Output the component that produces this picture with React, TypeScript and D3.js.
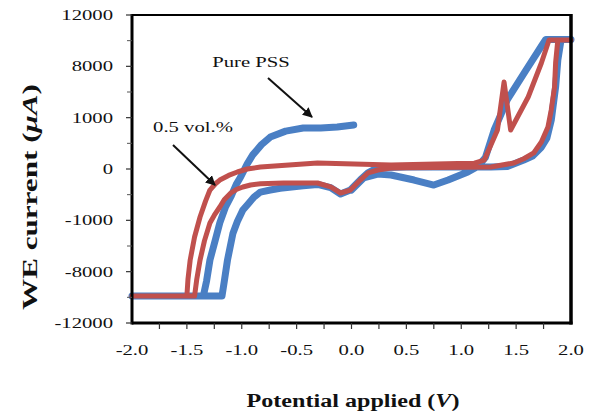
import React from "react";
import * as d3 from "d3";

// Pure PSS (blue) — scan order
const bluePotential = [
  0.0, 0.11, 0.24, 0.36, 0.57, 0.75, 0.88, 1.06, 1.15, 1.22, 1.30, 1.42, 1.59, 1.74, 1.77, 2.0,
  1.91, 1.88, 1.86, 1.82, 1.78, 1.73, 1.65, 1.57, 1.42, 1.27, 1.0, 0.5, 0.24, 0.15, 0.08, -0.01, -0.1, -0.19, -0.31, -0.44, -0.65, -0.74, -0.83, -0.89, -0.94, -0.99, -1.04, -1.08, -1.13, -1.16, -1.18, -2.0,
  -1.35, -1.32, -1.29, -1.24, -1.2, -1.15, -1.1, -1.05, -1.01, -0.95, -0.9, -0.82, -0.74, -0.6, -0.44, -0.28, -0.13, 0.02,
];
const blueCurrent = [
  -1640, -700, -400, -470, -860, -1250, -860, -234, 200, 900, 3040, 5400, 7710, 9700, 10100, 10100,
  10100, 8500, 6400, 3800, 2400, 1700, 1000, 700, 200, 150, 160, 160, 100, -300, -850, -1640, -1950, -1450, -1200, -1300, -1500, -1640, -1800, -2200, -2700, -3200, -4100, -5000, -7100, -8800, -9900, -9900,
  -9900, -8700, -7100, -5500, -4200, -3000, -2180, -1200, -620, 400, 1100, 1900, 2490, 2950, 3200, 3200, 3270, 3430,
];

// 0.5 vol.% (red) — scan order
const redPotential = [
  -2.0, -1.5, -1.49, -1.47, -1.43, -1.38, -1.33, -1.29, -1.24, -1.2, -1.12, -1.04, -0.95, -0.83, -0.31, 0.36, 0.97, 1.12, 1.21, 1.33, 1.39, 1.45, 1.61, 1.73, 1.8, 2.0,
  1.88, 1.86, 1.85, 1.82, 1.79, 1.73, 1.66, 1.57, 1.48, 1.27, 0.5, 0.36, 0.24, 0.15, 0.08, -0.01, -0.1, -0.19, -0.31, -0.62, -0.83, -0.92, -0.99, -1.05, -1.1, -1.16, -1.2, -1.25, -1.29, -1.34, -1.38, -1.41, -1.43, -2.0,
];
const redCurrent = [
  -9900, -9900, -8600, -7100, -5300, -3740, -2500, -1640, -1150, -860, -500, -234, 0, 156, 470, 310, 420, 450, 700, 3040, 6780, 3040, 5610, 8260, 10050, 10050,
  10050, 8300, 6390, 4600, 3270, 2100, 1250, 800, 470, 156, 100, 78, -78, -310, -860, -1640, -1870, -1400, -1090, -1090, -1150, -1250, -1400, -1600, -1870, -2400, -2960, -3600, -4200, -5600, -7100, -8600, -9900, -9900,
];

const xTickValues = [-2.0, -1.5, -1.0, -0.5, 0.0, 0.5, 1.0, 1.5, 2.0];
const xTickLabels = ["-2.0", "-1.5", "-1.0", "-0.5", "0.0", "0.5", "1.0", "1.5", "2.0"];
const yTickValues = [12000, 8000, 4000, 0, -4000, -8000, -12000];
const yTickLabels = ["12000", "8000", "1000", "0", "-1000", "-8000", "-12000"];

const FONT = "'Liberation Serif', 'Times New Roman', serif";
const BLUE = "#4a7fc4";
const RED = "#c0504d";
const SX = 1.38;

export default function App() {
  const x = d3.scaleLinear().domain([-2, 2]).range([132, 571]);
  const y = d3.scaleLinear().domain([-12000, 12000]).range([323, 15]);

  const mk = (vs: number[], cs: number[]) => {
    const pts: [number, number][] = vs.map((v, i) => [x(v), y(cs[i])]);
    return d3.line().curve(d3.curveLinear)(pts) || "";
  };

  const minorX = d3.range(-1.75, 2.0, 0.25);
  const minorY = d3.range(-10000, 12000, 2000);

  const stretched = (tx: number, ty: number, anchor: string, txt: string, size = 15, key?: string) => (
    <g key={key} transform={`translate(${tx},${ty}) scale(${SX},1)`}>
      <text x={0} y={0} textAnchor={anchor} fontFamily={FONT} fontSize={size} fill="#111">
        {txt}
      </text>
    </g>
  );

  return (
    <svg
      width={594}
      height={414}
      style={{ position: "absolute", left: 0, top: 0, background: "#fff" }}
    >
      <defs>
        <marker id="ah" viewBox="0 0 10 10" refX="9" refY="5" markerWidth="5" markerHeight="5" orient="auto">
          <path d="M0,0 L10,5 L0,10 z" fill="#111" />
        </marker>
      </defs>

      {/* curves */}
      <path d={mk(bluePotential, blueCurrent)} fill="none" stroke={BLUE} strokeWidth={7} strokeLinejoin="round" strokeLinecap="round" />
      <path d={mk(redPotential, redCurrent)} fill="none" stroke={RED} strokeWidth={5} strokeLinejoin="round" strokeLinecap="round" />

      {/* frame */}
      <line x1={x(-2)} x2={x(2)} y1={y(12000)} y2={y(12000)} stroke="#000" strokeWidth={2} />
      <line x1={x(-2)} x2={x(2) + 1.5} y1={y(-12000)} y2={y(-12000)} stroke="#000" strokeWidth={3} />
      <line x1={x(-2)} x2={x(-2)} y1={y(12000) - 1} y2={y(-12000) + 1.5} stroke="#000" strokeWidth={3} />
      <line x1={x(2)} x2={x(2)} y1={y(12000) - 1} y2={y(-12000) + 1.5} stroke="#000" strokeWidth={3.5} />

      {/* x ticks */}
      {minorX.map((v) => (
        <line key={"xt" + v} x1={x(v)} x2={x(v)} y1={y(-12000)} y2={y(-12000) + 6} stroke="#333" strokeWidth={1.2} />
      ))}
      {/* y ticks */}
      {yTickValues.map((v) => (
        <line key={"yt" + v} x1={x(-2) - 6} x2={x(-2)} y1={y(v)} y2={y(v)} stroke="#333" strokeWidth={1.2} />
      ))}
      {minorY.filter((v) => v % 4000 !== 0).map((v) => (
        <line key={"ym" + v} x1={x(-2) - 5} x2={x(-2)} y1={y(v)} y2={y(v)} stroke="#555" strokeWidth={1} />
      ))}

      {/* tick labels */}
      {xTickValues.map((v, i) => stretched(x(v), 355, "middle", xTickLabels[i], 15, "xl" + i))}
      {yTickValues.map((v, i) => stretched(113, y(v) + 5, "end", yTickLabels[i], 15, "yl" + i))}

      {/* axis titles */}
      <text
        x={353}
        y={407}
        textAnchor="middle"
        fontFamily={FONT}
        fontSize={18}
        fontWeight="bold"
        fill="#111"
        textLength={213}
        lengthAdjust="spacingAndGlyphs"
      >
        Potential applied (<tspan fontStyle="italic">V</tspan>)
      </text>
      <text
        transform={`translate(37,197) rotate(-90)`}
        x={0}
        y={0}
        textAnchor="middle"
        fontFamily={FONT}
        fontSize={20}
        fontWeight="bold"
        fill="#111"
        textLength={226}
        lengthAdjust="spacingAndGlyphs"
      >
        WE current (<tspan fontStyle="italic">μA</tspan>)
      </text>

      {/* annotations */}
      {stretched(251, 67, "middle", "Pure PSS", 15, "a1")}
      {stretched(193, 132, "middle", "0.5 vol.%", 15, "a2")}
      <line x1={268} y1={78} x2={312} y2={117} stroke="#111" strokeWidth={2} markerEnd="url(#ah)" />
      <line x1={173} y1={145} x2={215} y2={185} stroke="#111" strokeWidth={2} markerEnd="url(#ah)" />
    </svg>
  );
}
